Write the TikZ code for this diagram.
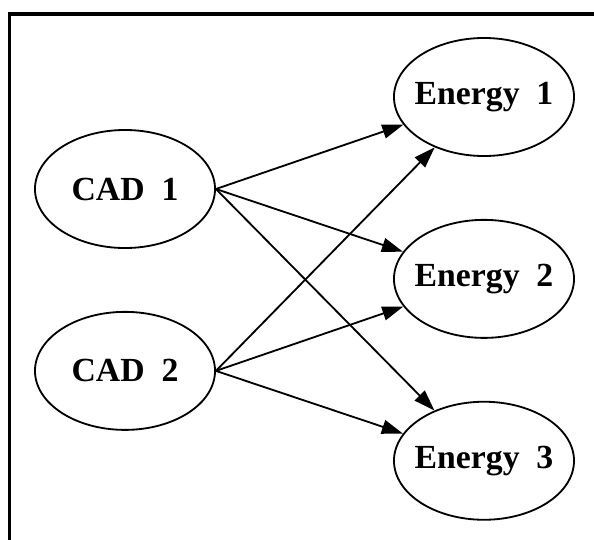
\documentclass[tikz,border=0pt]{standalone}
\usepackage{fontspec}
\setmainfont{Liberation Serif}
\usetikzlibrary{positioning, arrows.meta, shapes.geometric}

\begin{document}
\begin{tikzpicture}[
  x=0.025cm, y=-0.025cm,
  node distance=1.55cm,
  state/.style={draw, line width=1.3pt, ellipse, minimum width=4.5cm, minimum height=2.95cm, inner xsep=-20pt, inner ysep=0pt, font=\fontsize{24}{28}\selectfont\bfseries},
  arrow/.style={-{Triangle[length=15pt,width=10pt]}, line width=1.3pt},
  frame/.style={line width=2.8pt}
]

\useasboundingbox (0,0) rectangle (594,540);
\draw[frame] (9.5,541) -- (9.5,14) -- (595,14);

\node[state] (cad1) at (125,189) {CAD\ \ 1};
\node[state, below=of cad1] (cad2) {CAD\ \ 2};
\node[state] (energy1) at (484,97) {Energy\ \ 1};
\node[state, below=of energy1] (energy2) {Energy\ \ 2};
\node[state, below=of energy2] (energy3) {Energy\ \ 3};

\draw[arrow] (cad1.east) -- (energy1);
\draw[arrow] (cad1.east) -- (energy2);
\draw[arrow] (cad1.east) -- (energy3);
\draw[arrow] (cad2.east) -- (energy1);
\draw[arrow] (cad2.east) -- (energy2);
\draw[arrow] (cad2.east) -- (energy3);

\end{tikzpicture}
\end{document}
